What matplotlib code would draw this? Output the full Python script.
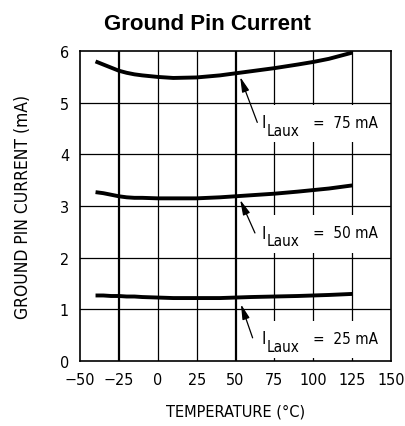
import matplotlib
matplotlib.use('Agg')
import matplotlib.pyplot as plt
from matplotlib.patches import Rectangle

plt.rcParams['font.family'] = ['DejaVu Sans']
plt.rcParams['font.stretch'] = 'condensed'

# curves
temp = [-40, -35, -30, -25, -20, -15, -10, 0, 10, 25, 40, 50, 60, 75, 90, 100, 110, 125]
i_75 = [5.80, 5.74, 5.68, 5.62, 5.58, 5.55, 5.53, 5.50, 5.48, 5.49, 5.53, 5.57, 5.61, 5.67, 5.74, 5.79, 5.85, 5.97]
i_50 = [3.27, 3.25, 3.22, 3.19, 3.17, 3.16, 3.16, 3.15, 3.15, 3.15, 3.17, 3.19, 3.21, 3.24, 3.28, 3.31, 3.34, 3.40]
i_25 = [1.27, 1.27, 1.26, 1.26, 1.25, 1.25, 1.24, 1.23, 1.22, 1.22, 1.22, 1.23, 1.24, 1.25, 1.26, 1.27, 1.28, 1.30]

labels = ['75', '50', '25']
arrow_tips = [(53, 5.50), (53, 3.12), (53.5, 1.10)]
arrow_tails = [(64, 4.62), (62.5, 2.48), (61, 0.45)]
text_y = [4.60, 2.46, 0.42]

xticks = [-50, -25, 0, 25, 50, 75, 100, 125, 150]
yticks = [0, 1, 2, 3, 4, 5, 6]

fig = plt.figure(figsize=(4.05, 4.27), dpi=100)
ax = fig.add_axes([0.1975, 0.152, 0.768, 0.726])

# grid
for x in xticks[1:-1]:
    lw = 1.6 if x in (-25, 50) else 0.9
    ax.axvline(x, color='black', lw=lw, zorder=1)
for y in yticks[1:-1]:
    ax.axhline(y, color='black', lw=0.9, zorder=1)

for vals in (i_75, i_50, i_25):
    ax.plot(temp, vals, color='black', lw=2.8, zorder=2,
            solid_capstyle='butt', solid_joinstyle='round')

for lab, tip, tail, ty in zip(labels, arrow_tips, arrow_tails, text_y):
    ax.add_patch(Rectangle((62, ty - 0.36), 85, 0.72, facecolor='white',
                           edgecolor='none', zorder=3))
    ax.text(67, ty + 0.02, 'I', fontsize=12, ha='left', va='center', zorder=4)
    ax.text(70.3, ty - 0.13, 'Laux', fontsize=11, ha='left', va='center', zorder=4)
    ax.text(100, ty + 0.02, '=  ' + lab + ' mA', fontsize=11, ha='left',
            va='center', zorder=4)
    ax.annotate('', xy=tip, xytext=tail, zorder=5,
                arrowprops=dict(arrowstyle='-|>,head_length=0.9,head_width=0.22',
                                color='black', lw=0.9, shrinkA=0, shrinkB=0))

ax.set_xlim(-50, 150)
ax.set_ylim(0, 6)
ax.set_xticks(xticks)
ax.set_xticklabels(['\u221250', '\u221225', '0', '25', '50', '75', '100', '125', '150'])
ax.set_yticks(yticks)
ax.tick_params(length=0, labelsize=11.5, pad=8)
for s in ax.spines.values():
    s.set_linewidth(1.2)

ax.set_xlabel('TEMPERATURE (\u00b0C)', fontsize=11.7, labelpad=12)
ax.set_ylabel('GROUND PIN CURRENT (mA)', fontsize=12.5, labelpad=20)

fig.text(0.512, 0.942, 'Ground Pin Current', fontsize=16, fontweight='bold',
         family='Liberation Sans', stretch='normal', ha='center', va='center')

fig.savefig('out.png', dpi=100)
